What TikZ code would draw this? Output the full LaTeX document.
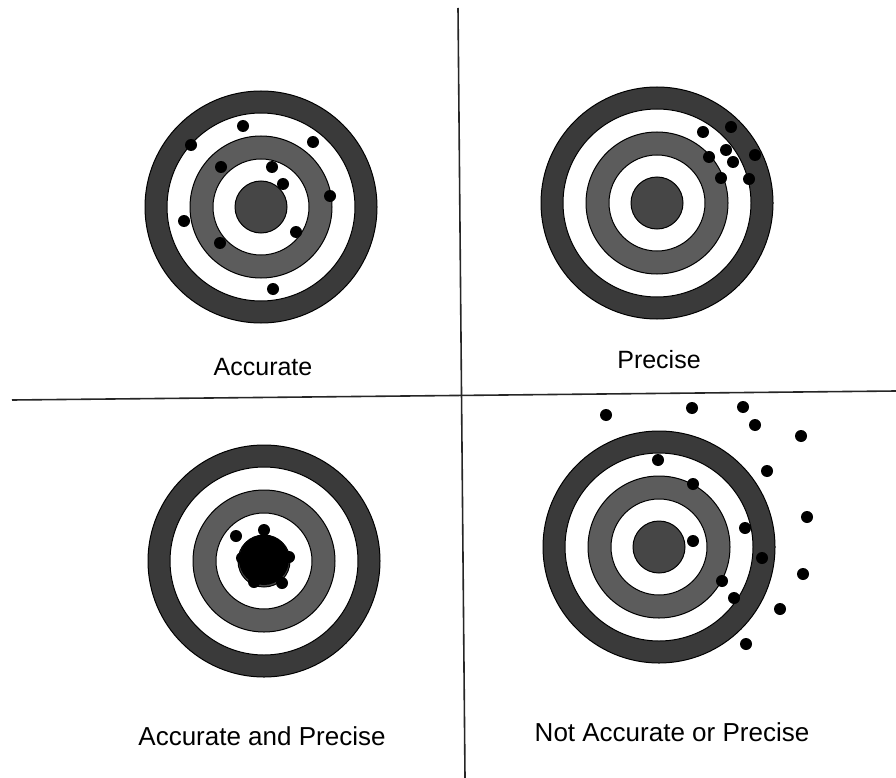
\documentclass[tikz,border=0pt]{standalone}
\usepackage{fontspec}
\setmainfont{Liberation Sans}
\definecolor{ringA}{HTML}{3A3A3A}
\definecolor{ringB}{HTML}{5C5C5C}
\definecolor{bull}{HTML}{464646}
\newcommand\tgt[2]{%
  \filldraw[ringA,draw=black,line width=1pt] (#1,#2) circle[radius=116pt];
  \filldraw[white,draw=black,line width=1pt] (#1,#2) circle[radius=94pt];
  \filldraw[ringB,draw=black,line width=1pt] (#1,#2) circle[radius=71pt];
  \filldraw[white,draw=black,line width=1pt] (#1,#2) circle[radius=48pt];
  \filldraw[bull,draw=black,line width=1pt] (#1,#2) circle[radius=26pt];
}
\begin{document}
\begin{tikzpicture}[x=1pt,y=-1pt,
  lbl/.style={anchor=base,inner sep=0pt,font=\fontsize{25}{30}\selectfont},
  lblb/.style={anchor=base,inner sep=0pt,font=\fontsize{26}{31}\selectfont},
  divider/.style={draw=black!85,line width=1.6pt}]
\useasboundingbox (0,0) rectangle (896,778);
\fill[white] (0,0) rectangle (896,778);

% dividing lines
\coordinate (vt) at (458,8);
\coordinate (vb) at (465,778);
\coordinate (hl) at (12,400);
\coordinate (hr) at (896,391);
\draw[divider] (vt) -- (vb);
\draw[divider] (hl) -- (hr);

% targets
\tgt{261}{207}
\tgt{657}{203}
\tgt{264}{561}
\tgt{659}{547}

% Accurate
\foreach \x/\y in {243/126,191/145,313/142,272/167,221/167,283/184,330/196,184/221,296/232,220/243,273/289}
  \fill[black] (\x,\y) circle[radius=6pt];
% Precise
\foreach \x/\y in {703/132,731/127,709/157,726/150,733/162,755/155,721/178,749/179}
  \fill[black] (\x,\y) circle[radius=6pt];
% Accurate and precise
\fill[black] (264,560) circle[radius=25pt];
\foreach \x/\y in {264/530,236/536,242/558,289/557,254/582,282/583}
  \fill[black] (\x,\y) circle[radius=6pt];
% Neither
\foreach \x/\y in {606/415,692/408,743/407,755/425,801/436,658/460,767/471,693/484,807/517,745/528,693/541,762/558,803/574,722/581,734/598,780/609,746/644}
  \fill[black] (\x,\y) circle[radius=6pt];

% labels
\node[lbl] (l1) at (263,375) {Accurate};
\node[lbl] (l2) at (659,368) {Precise};
\node[lblb] (l3) at (262,745) {Accurate and Precise};
\node[lblb] (l4) at (672,741) {Not Accurate or Precise};
\end{tikzpicture}
\end{document}
